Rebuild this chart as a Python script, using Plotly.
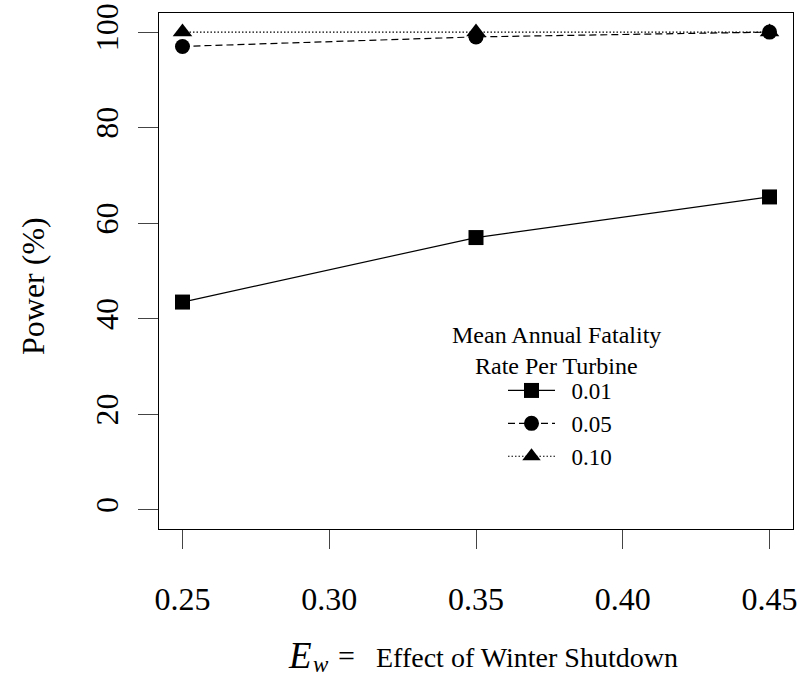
import plotly.graph_objects as go

# Data
ew = [0.25, 0.35, 0.45]
rate_labels = ["0.01", "0.05", "0.10"]
power_001 = [43.5, 57.0, 65.5]
power_005 = [97.0, 99.0, 100.0]
power_010 = [100.0, 100.0, 100.0]
x_ticks = [0.25, 0.30, 0.35, 0.40, 0.45]
x_ticktext = ["0.25", "0.30", "0.35", "0.40", "0.45"]
y_ticks = [0, 20, 40, 60, 80, 100]

W, H = 802, 680
L, R, T, B = 159, 9, 13, 151

FONT = "Liberation Serif, Times New Roman, Tinos, serif"

fig = go.Figure()
styles = [
    (power_001, "solid", "square", 15),
    (power_005, "7px,4px", "circle", 15),
    (power_010, "1.5px,2px", "triangle-up", 17),
]
for lab, (vals, dash, sym, ms) in zip(rate_labels, styles):
    fig.add_trace(go.Scatter(
        x=ew, y=vals, name="\u00a0\u00a0" + lab, mode="lines+markers",
        line=dict(color="black", width=1.2, dash=dash),
        marker=dict(color="black", symbol=sym, size=ms),
    ))

axis_common = dict(
    showgrid=False, zeroline=False, showline=True, linecolor="black",
    linewidth=1.3, mirror=True, ticks="outside", tickwidth=1.2,
    tickcolor="#444444",
)
fig.update_xaxes(range=[0.242, 0.458], tickvals=x_ticks, ticktext=x_ticktext,
                 tickfont=dict(family=FONT, size=32, color="black"),
                 ticklen=19, ticklabelstandoff=22, **axis_common)
fig.update_yaxes(range=[-4, 104], tickvals=y_ticks, tickangle=-90,
                 tickfont=dict(family=FONT, size=32, color="black"),
                 ticklen=20, ticklabelstandoff=7, **axis_common)

annotations = [
    dict(text="Power (%)", x=33, y=286, textangle=-90, font_size=32),
    dict(text="<i>E</i>", x=300, y=655, font_size=37),
    dict(text="<i>w</i>", x=321, y=664, font_size=23),
    dict(text="=", x=346, y=655, font_size=30),
    dict(text="Effect of Winter Shutdown", x=374, y=657, font_size=28,
         xanchor="left"),
    dict(text="Mean Annual Fatality", x=556, y=335, font_size=24),
    dict(text="Rate Per Turbine", x=556, y=366, font_size=24),
]
ann = []
for a in annotations:
    ann.append(dict(
        text=a["text"], xref="paper", yref="paper",
        x=(a["x"] - L) / (W - L - R), y=1 - (a["y"] - T) / (H - T - B),
        xanchor=a.get("xanchor", "center"), yanchor="middle", showarrow=False,
        textangle=a.get("textangle", 0),
        font=dict(family=FONT, size=a["font_size"], color="black"),
    ))

fig.update_layout(
    width=W, height=H,
    margin=dict(l=L, r=R, t=T, b=B, autoexpand=False),
    paper_bgcolor="white", plot_bgcolor="white",
    showlegend=True,
    legend=dict(
        x=(503 - L) / (W - L - R), y=1 - (369 - T) / (H - T - B),
        xanchor="left", yanchor="top", bgcolor="rgba(0,0,0,0)",
        font=dict(family=FONT, size=23, color="black"),
        itemwidth=47, tracegroupgap=0,
    ),
    annotations=ann,
)

fig.write_html("out.html",
               config={"displayModeBar": False},
               post_script="document.body.style.margin='0';"
                           "document.body.style.overflow='hidden';")
